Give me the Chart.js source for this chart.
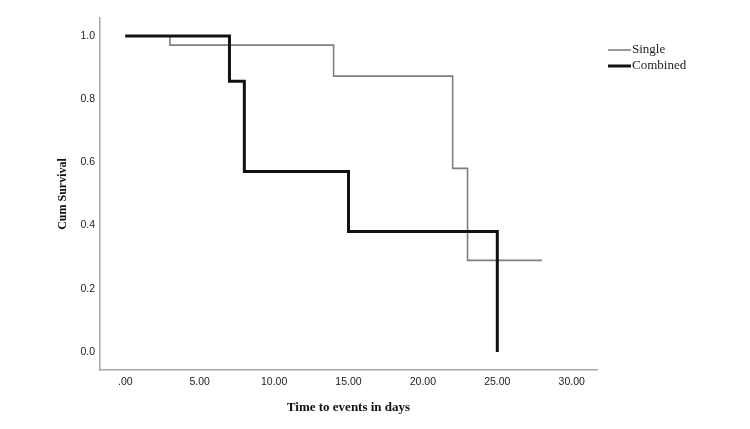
<!DOCTYPE html>
<html>
<head>
<meta charset="utf-8">
<script src="https://cdn.jsdelivr.net/npm/chart.js@4"></script>
<style>
  html, body { margin: 0; padding: 0; background: #fff; }
  #wrap { width: 750px; height: 429px; position: relative; }
</style>
</head>
<body>
<div id="wrap"><canvas id="graf"></canvas></div>
<script>
// survival steps
const singleTimes = [0, 3, 14, 22, 23, 28];
const singleSurvival = [1.0, 0.971, 0.873, 0.581, 0.29, 0.29];
const combinedTimes = [0, 7, 8, 15, 25];
const combinedSurvival = [1.0, 0.857, 0.571, 0.381, 0.0];

const xTicks = [0, 5, 10, 15, 20, 25, 30];
const xTickLabels = ['.00', '5.00', '10.00', '15.00', '20.00', '25.00', '30.00'];
const yTicks = [0, 0.2, 0.4, 0.6, 0.8, 1.0];
const yTickLabels = ['0.0', '0.2', '0.4', '0.6', '0.8', '1.0'];

const toPoints = (xs, ys) => xs.map((x, i) => ({ x: x, y: ys[i] }));

const tickFont = { family: "'Liberation Sans Narrow', 'Liberation Sans', Arial", size: 10.5 };
const titleFont = { family: "'Liberation Serif', 'Times New Roman', serif", size: 13, weight: 'bold' };

// legend drawn at the right, like the SPSS output
const sideLegend = {
  id: 'sideLegend',
  afterDraw(chart) {
    const ctx = chart.ctx;
    ctx.save();
    ctx.font = "13px 'Liberation Serif', 'Times New Roman', serif";
    ctx.textBaseline = 'middle';
    chart.data.datasets.forEach((ds, i) => {
      const y = 50 + i * 16;
      ctx.strokeStyle = ds.borderColor;
      ctx.lineWidth = ds.borderWidth;
      ctx.beginPath();
      ctx.moveTo(608, y);
      ctx.lineTo(631, y);
      ctx.stroke();
      ctx.fillStyle = '#222';
      ctx.fillText(ds.label, 632, y);
    });
    ctx.restore();
  }
};

const ctx = document.getElementById('graf').getContext('2d');

const config = {
  type: 'line',
  data: {
    datasets: [
      {
        label: 'Single',
        data: toPoints(singleTimes, singleSurvival),
        borderColor: '#7f7f7f',
        borderWidth: 1.6,
        stepped: true,
        pointRadius: 0,
        fill: false,
        order: 1,
      },
      {
        label: 'Combined',
        data: toPoints(combinedTimes, combinedSurvival),
        borderColor: '#111111',
        borderWidth: 3,
        stepped: true,
        pointRadius: 0,
        fill: false,
        order: 0,
      },
    ],
  },
  options: {
    responsive: true,
    maintainAspectRatio: false,
    animation: false,
    layout: { padding: { top: 18, right: 153, left: 0, bottom: 0 } },
    plugins: {
      legend: { display: false },
      tooltip: { enabled: false },
    },
    scales: {
      x: {
        type: 'linear',
        min: -1.7,
        max: 31.7,
        grid: { display: false, drawTicks: false },
        border: { display: true, color: '#a8a8a8', width: 1.5 },
        afterBuildTicks: (scale) => {
          scale.ticks = xTicks.map((v) => ({ value: v }));
        },
        afterFit: (scale) => {
          scale.height = 59;
        },
        ticks: {
          padding: 6,
          color: '#222',
          font: tickFont,
          maxRotation: 0,
          callback: (value) => xTickLabels[xTicks.indexOf(value)],
        },
        title: {
          display: true,
          text: 'Time to events in days',
          color: '#111',
          font: titleFont,
          padding: { top: 0, bottom: 14 },
        },
      },
      y: {
        min: -0.057,
        max: 1.057,
        grid: { display: false, drawTicks: false },
        border: { display: true, color: '#a8a8a8', width: 1.5 },
        afterBuildTicks: (scale) => {
          scale.ticks = yTicks.map((v) => ({ value: v }));
        },
        afterFit: (scale) => {
          scale.width = 100;
        },
        ticks: {
          padding: 5,
          color: '#222',
          font: tickFont,
          callback: (value) => yTickLabels[yTicks.indexOf(value)],
        },
        title: {
          display: true,
          text: 'Cum Survival',
          color: '#111',
          font: { family: "'Liberation Serif', 'Times New Roman', serif", size: 12, weight: 'bold' },
          padding: { top: 56, bottom: 0 },
        },
      },
    },
  },
  plugins: [sideLegend],
};

const myChart = new Chart(ctx, config);
</script>
</body>
</html>
